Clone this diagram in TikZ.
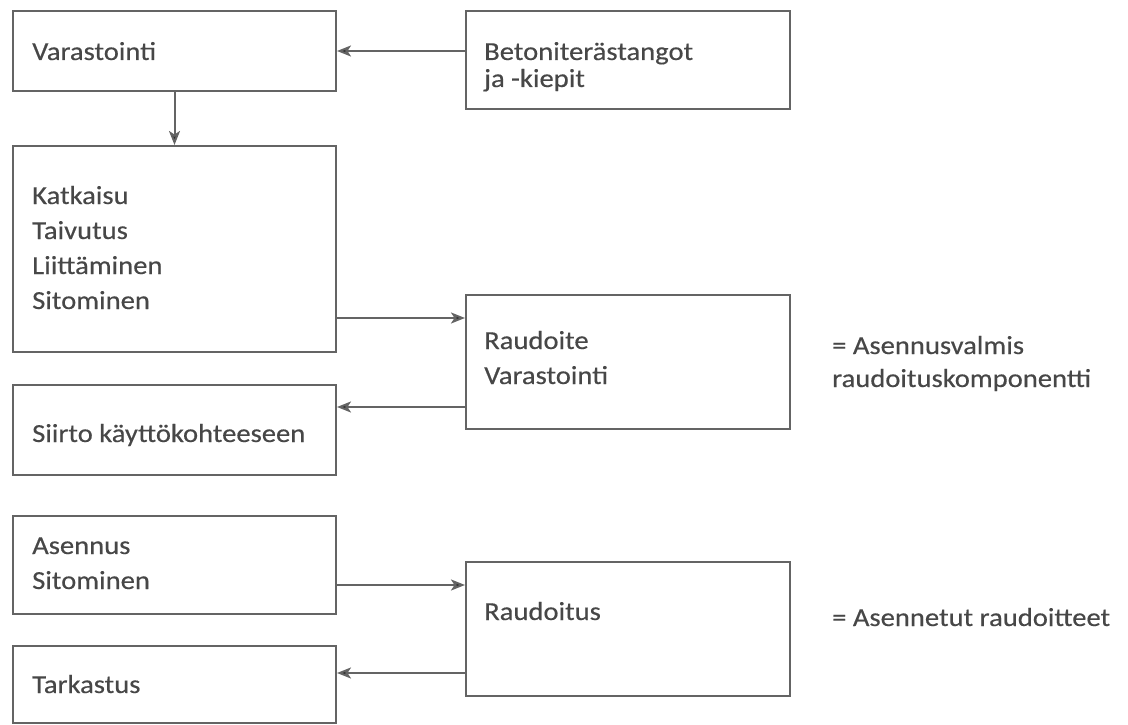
\documentclass[tikz,border=0pt]{standalone}
\usepackage{fontspec}
\setmainfont{Carlito}[FakeStretch=1.1,FakeBold=0.4]
\usetikzlibrary{arrows.meta,calc}
\definecolor{linec}{HTML}{646464}
\definecolor{textc}{HTML}{474747}
\definecolor{tipc}{HTML}{2A2A2A}
\tikzset{
  box/.style={draw=linec, line width=2pt, rectangle, inner sep=0pt, anchor=north west},
  txt/.style={anchor=base west, inner sep=0pt, text=textc, font=\fontsize{26}{30}\selectfont},
  arr/.style={draw=linec, line width=2pt, -{Stealth[length=14pt,width=11pt,inset=3.5pt,fill=tipc]}},
}
\begin{document}
\begin{tikzpicture}[x=1pt,y=-1pt]
\useasboundingbox (0,0) rectangle (1128,725);
% boxes
\node[box, minimum width=323pt, minimum height=80pt]  (var) at (12,10) {};
\node[box, minimum width=324pt, minimum height=98pt]  (bet) at (465,10) {};
\node[box, minimum width=323pt, minimum height=206pt] (kat) at (12,145) {};
\node[box, minimum width=324pt, minimum height=134pt] (rdt) at (465,294) {};
\node[box, minimum width=323pt, minimum height=90pt]  (sii) at (12,384) {};
\node[box, minimum width=323pt, minimum height=98pt]  (ase) at (12,515) {};
\node[box, minimum width=324pt, minimum height=134pt] (rds) at (465,561) {};
\node[box, minimum width=323pt, minimum height=77pt]  (tar) at (12,645) {};
% texts
\node[txt] (t1) at (32,60) {Varastointi};
\node[txt] (t2) at (484,60) {Betoniterästangot};
\node[txt] (t3) at (484,87) {ja -kiepit};
\node[txt] (t4) at (32,204) {Katkaisu};
\node[txt] (t5) at (32,239) {Taivutus};
\node[txt] (t6) at (32,274) {Liittäminen};
\node[txt] (t7) at (32,309) {Sitominen};
\node[txt] (t8) at (484,349) {Raudoite};
\node[txt] (t9) at (484,384) {Varastointi};
\node[txt] (t10) at (32,442) {Siirto käyttökohteeseen};
\node[txt] (t11) at (32,554) {Asennus};
\node[txt] (t12) at (32,589) {Sitominen};
\node[txt] (t13) at (484,620) {Raudoitus};
\node[txt] (t14) at (32,693) {Tarkastus};
\node[txt] (t15) at (832,354) {= Asennusvalmis};
\node[txt] (t16) at (832,387) {raudoituskomponentti};
\node[txt] (t17) at (832,626) {= Asennetut raudoitteet};
% connectors
\draw[arr] (bet.west |- var.east) -- (var.east);
\draw[arr] (var.south) -- (kat.north);
\coordinate (k1) at ([yshift=35pt]kat.south east);
\draw[arr] (k1) -- (k1 -| rdt.west);
\coordinate (s1) at ([yshift=-23pt]sii.north east);
\draw[arr] (s1 -| rdt.west) -- (s1);
\coordinate (a1) at ([yshift=30pt]ase.south east);
\draw[arr] (a1) -- (a1 -| rds.west);
\coordinate (r1) at ([yshift=-28pt]tar.north east);
\draw[arr] (r1 -| rds.west) -- (r1);
\end{tikzpicture}
\end{document}
